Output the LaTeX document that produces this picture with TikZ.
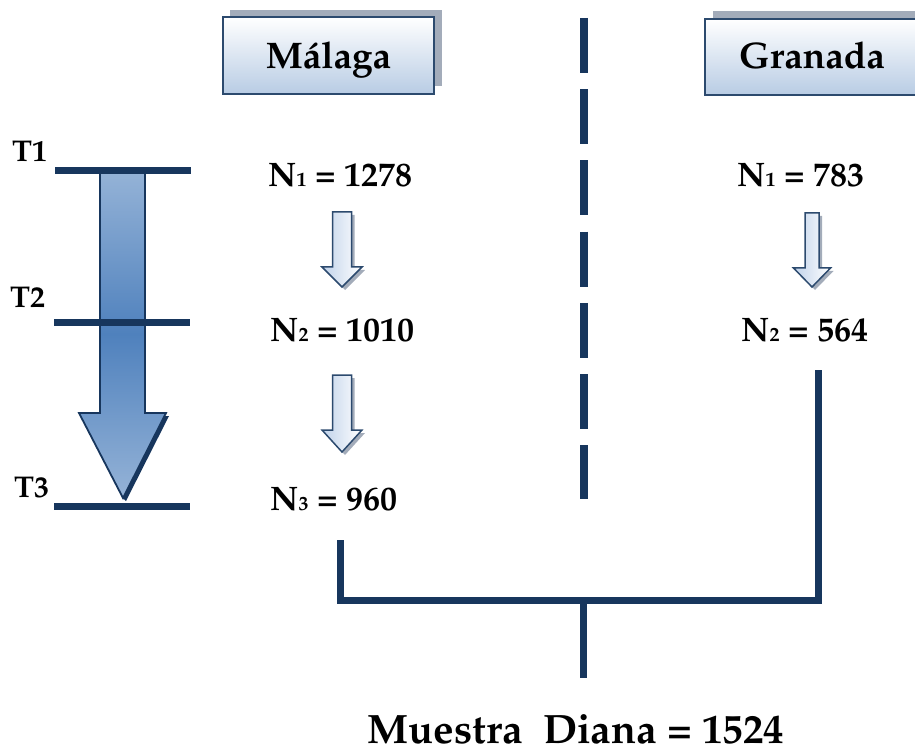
\documentclass[tikz,border=0pt]{standalone}
\usepackage[T1]{fontenc}
\usepackage{mathpazo}
\usetikzlibrary{calc}
\definecolor{navy}{HTML}{17365D}
\definecolor{boxedge}{HTML}{2C4A6E}
\definecolor{boxtop}{HTML}{FFFFFF}
\definecolor{boxbot}{HTML}{B8CCE4}
\definecolor{shadowgray}{HTML}{A3ACBA}
\definecolor{arrlight}{HTML}{95B3D7}
\definecolor{arrdark}{HTML}{4F81BD}
\definecolor{smallarr}{HTML}{C0D2EA}
\tikzset{
  timeline/.style={line width=7pt, draw=navy},
  bracket/.style={line width=7pt, draw=navy},
  divider/.style={line width=8pt, draw=navy, dash pattern=on 55pt off 16.2pt},
  citybox/.style={draw=boxedge, line width=2.5pt, top color=boxtop, bottom color=boxbot},
  cityshadow/.style={fill=shadowgray},
  valtext/.style={font=\bfseries\fontsize{34}{38}\selectfont, inner sep=0pt, anchor=base west},
  citytext/.style={font=\bfseries\fontsize{37}{40}\selectfont, inner sep=0pt, anchor=base},
  totaltext/.style={font=\bfseries\fontsize{41}{44}\selectfont, inner sep=0pt, text depth=0pt, anchor=base},
  tlabel/.style={font=\bfseries\fontsize{30}{34}\selectfont, inner sep=0pt, anchor=base west},
  smallarrow/.style={draw=boxedge, line width=1.5pt, left color=smallarr, right color=white},
  smallshadow/.style={fill=shadowgray},
}
% small index digit sitting on the baseline
\newcommand{\idx}[1]{{\fontsize{20}{20}\selectfont #1}}
\newcommand{\downarrowshape}[7]{%
  % #1 style, #2 x-centre, #3 shaft half width, #4 head half width, #5 top, #6 head start, #7 tip
  \path[#1] (#2-#3,#5) -- (#2+#3,#5) -- (#2+#3,#6) -- (#2+#4,#6) -- (#2,#7)
     -- (#2-#4,#6) -- (#2-#3,#6) -- cycle;}
\begin{document}
\begin{tikzpicture}[x=1pt,y=-1pt]
\useasboundingbox (0,0) rectangle (915,751);

% city header boxes
\fill[cityshadow] (230,10) rectangle (442,86);
\path[citybox] (223,17) rectangle (434,94);
\node[citytext] (malaga) at (328.5,69) {M\'alaga};
\fill[cityshadow] (713,11) rectangle (925,87);
\path[citybox] (705,19) rectangle (930,95);
\node[citytext] (granada) at (812,69) {Granada};

% dashed divider between the two cities
\coordinate (divtop) at (583.5,18);
\coordinate (divbot) at (583.5,499);
\draw[divider] (divtop) -- (divbot);

% time axis
\node[tlabel] (t1) at (12,162) {T1};
\node[tlabel] (t2) at (10,307) {T2};
\node[tlabel] (t3) at (14,497) {T3};
\coordinate (l1a) at (55,170.5); \coordinate (l1b) at (191,170.5);
\coordinate (l2a) at (54,322); \coordinate (l2b) at (190,322);
\coordinate (l3a) at (54,506); \coordinate (l3b) at (190,506);

% large time arrow: shadow under the head, shaded body, outline
\path[fill=navy] (145,416) -- (169,416) -- (126,501) -- (123,498) -- (166,413) -- (145,413) -- cycle;
\path[top color=arrlight, bottom color=arrlight, middle color=arrdark]
  (100,170) -- (145,170) -- (145,413) -- (166,413) -- (123,498)
  -- (79,413) -- (100,413) -- cycle;
\draw[navy, line width=1.8pt, line join=miter]
  (100,170) -- (145,170) -- (145,413) -- (166,413) -- (123,498)
  -- (79,413) -- (100,413) -- cycle;

\draw[timeline] (l1a) -- (l1b);
\draw[timeline] (l2a) -- (l2b);
\draw[timeline] (l3a) -- (l3b);

% population counts
\node[valtext] (m1) at (268,187) {N\idx{1} = 1278};
\node[valtext] (m2) at (270,341) {N\idx{2} = 1010};
\node[valtext] (m3) at (270,510) {N\idx{3} = 960};
\node[valtext] (g1) at (737,187) {N\idx{1} = 783};
\node[valtext] (g2) at (741,341) {N\idx{2} = 564};

% small step arrows
\downarrowshape{smallshadow}{345}{9.5}{20}{215}{270}{290}
\downarrowshape{smallarrow}{342}{9.5}{20}{212}{267}{287}
\downarrowshape{smallshadow}{345}{9.5}{20}{378}{433}{455}
\downarrowshape{smallarrow}{342}{9.5}{20}{375}{430}{452}
\downarrowshape{smallshadow}{815}{7}{18.5}{216}{271}{290}
\downarrowshape{smallarrow}{812}{7}{18.5}{213}{268}{287}

% joining bracket to the total
\coordinate (bl) at (340,540);
\coordinate (br) at (818,370);
\coordinate (bm) at (583,600);
\coordinate (bt) at (583,678);
\node[totaltext] (total) at (576,743) {Muestra\ \ Diana = 1524};
\draw[bracket] (bl) |- (bm) -| (br);
\draw[bracket] (bm) -- (bt);
\end{tikzpicture}
\end{document}
